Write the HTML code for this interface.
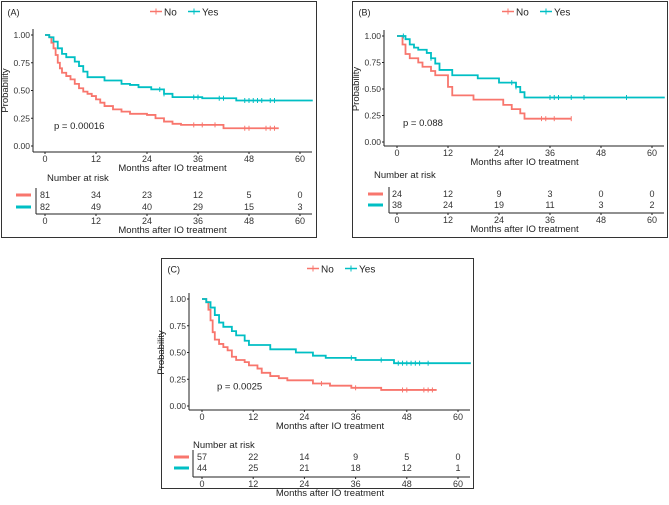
<!DOCTYPE html>
<html><head><meta charset="utf-8">
<style>
body{margin:0;background:#fff;width:669px;height:500px;overflow:hidden}
svg{font-family:"Liberation Sans",sans-serif}
</style></head><body>
<svg id="s" width="669" height="500"></svg>
<script>
const groups = ["No","Yes"];
const riskTimes = [0,12,24,36,48,60];
const yTicks = [0,0.25,0.5,0.75,1.0];
const yTickLabels = ["0.00","0.25","0.50","0.75","1.00"];
// Panel A
const aNoTimes = [0,1,1.5,2,2.5,3,3.5,4,5,6,7,8,9,10,11,12,13,14,16,18,20,24,26,28,30,32,42,55];
const aNoSurv  = [1,0.98,0.93,0.88,0.82,0.75,0.70,0.66,0.63,0.60,0.56,0.52,0.49,0.47,0.45,0.42,0.39,0.36,0.33,0.31,0.29,0.28,0.25,0.22,0.20,0.19,0.16,0.16];
const aNoCens  = [35,37,40,47,48,52,53,54];
const aYesTimes = [0,1,2,3,4,5,7,8,9,10,14,18,20,22,25,28,30,37,45,63];
const aYesSurv  = [1,0.98,0.94,0.88,0.83,0.80,0.76,0.72,0.67,0.62,0.59,0.56,0.55,0.53,0.51,0.47,0.44,0.43,0.41,0.41];
const aYesCens  = [27,28,35,36,41,42,47,48,49,50,51,53,54];
const aRiskNo = [81,34,23,12,5,0];
const aRiskYes = [82,49,40,29,15,3];
// Panel B
const bNoTimes = [0,1.3,2,3,5,6,8,9,12,13,18,25,27,29,30,41];
const bNoSurv  = [1,0.92,0.83,0.79,0.75,0.71,0.67,0.63,0.52,0.44,0.40,0.35,0.31,0.27,0.22,0.22];
const bNoCens  = [34,35,37,41];
const bYesTimes = [0,2,3,4,5,7,8,9,10,13,19,24,28,29,30,63];
const bYesSurv  = [1,0.97,0.92,0.89,0.87,0.84,0.79,0.74,0.68,0.63,0.60,0.56,0.52,0.47,0.42,0.42];
const bYesCens  = [1.5,8,27,28,36,37,38,41,44,54];
const bRiskNo = [24,12,9,3,0,0];
const bRiskYes = [38,24,19,11,3,2];
// Panel C
const cNoTimes = [0,1,1.5,2,2.5,3,4,5,6,7,8,10,11,13,14,16,18,20,26,30,35,42,55];
const cNoSurv  = [1,0.97,0.90,0.80,0.69,0.62,0.58,0.55,0.52,0.46,0.43,0.41,0.38,0.35,0.31,0.28,0.26,0.24,0.21,0.19,0.17,0.15,0.15];
const cNoCens  = [28,36,47,48,52,53,54];
const cYesTimes = [0,1,2,3,4,5,7,8,10,11,16,22,26,29,36,45,63];
const cYesSurv  = [1,0.97,0.92,0.85,0.78,0.74,0.70,0.66,0.61,0.57,0.53,0.50,0.47,0.45,0.43,0.40,0.40];
const cYesCens  = [35,42,46,47,48,49,50,51,53];
const cRiskNo = [57,22,14,9,5,0];
const cRiskYes = [44,25,21,18,12,1];

const COLORS = ["#F8766D","#00BFC4"];
const NS = "http://www.w3.org/2000/svg";
const svg = document.getElementById("s");
function el(tag, attrs, parent, text){
  const e = document.createElementNS(NS, tag);
  for (const k in attrs) e.setAttribute(k, attrs[k]);
  if (text !== undefined) e.textContent = text;
  (parent||svg).appendChild(e);
  return e;
}

function panel(P){
  const g = el("g", {}, svg);
  
  
  const box = el("rect", {x:P.bx, y:P.by, width:P.bw, height:P.bh, fill:"none", stroke:"#333", "stroke-width":1}, g);
  
  
  const xs = t => P.x0 + (P.x60 - P.x0) * t / 60;
  const ys = v => P.y0 + (P.y1 - P.y0) * v;
  const t1 = el("text", {x:P.bx+6, y:P.by+14, "font-size":9, fill:"#222"}, g, "(" + P.tag + ")");
  
  
  const lg = el("g", {}, g);
  
  
  const lx = P.legX, ly = P.by + 13;
  groups.forEach((name, i) => {
    const ox = lx + i * 38;
    const ln = el("line", {x1:ox, y1:ly-3, x2:ox+12, y2:ly-3, stroke:COLORS[i], "stroke-width":1.5}, lg);
    
    
    el("line", {x1:ox+6, y1:ly-6, x2:ox+6, y2:ly, stroke:COLORS[i], "stroke-width":1}, lg);
    const tx = el("text", {x:ox+14, y:ly+1, "font-size":10, fill:"#222"}, lg, name);
    
    
  });
  const yAx = el("line", {x1:P.ax, y1:P.y1-6, x2:P.ax, y2:P.xAxY, stroke:"#222", "stroke-width":1}, g);
  
  
  const xAx = el("line", {x1:P.ax, y1:P.xAxY, x2:P.xEnd, y2:P.xAxY, stroke:"#222", "stroke-width":1}, g);
  
  
  yTicks.forEach((v, i) => {
    el("line", {x1:P.ax-2, y1:ys(v), x2:P.ax, y2:ys(v), stroke:"#222"}, g);
    const t = el("text", {x:P.ax-3, y:ys(v)+3, "font-size":8.5, fill:"#333", "text-anchor":"end"}, g, yTickLabels[i]);
    
    
  });
  const yt = el("text", {x:0, y:0, "font-size":9.5, fill:"#222", "text-anchor":"middle",
    transform:`translate(${P.ax-25},${(P.y0+P.y1)/2}) rotate(-90)`}, g, "Probability");
  
  
  riskTimes.forEach(t => {
    el("line", {x1:xs(t), y1:P.xAxY, x2:xs(t), y2:P.xAxY+2, stroke:"#222"}, g);
    const tl = el("text", {x:xs(t), y:P.xAxY+10, "font-size":9, fill:"#333", "text-anchor":"middle"}, g, t);
    
    
  });
  const xt = el("text", {x:(P.x0+P.x60)/2, y:P.xAxY+19, "font-size":9.5, fill:"#222", "text-anchor":"middle"}, g, "Months after IO treatment");
  
  
  const pv = el("text", {x:P.pX, y:ys(0.18)+3, "font-size":9.5, fill:"#222"}, g, P.p);
  
  
  [[P.noT,P.noS,P.noC],[P.yesT,P.yesS,P.yesC]].forEach((s, gi) => {
    const [T,S,C] = s;
    let d = `M${xs(T[0])},${ys(S[0])}`;
    for (let i = 1; i < T.length; i++) d += `H${xs(T[i])}V${ys(S[i])}`;
    const p = el("path", {d, fill:"none", stroke:COLORS[gi], "stroke-width":1.8}, g);
    
    
    C.forEach(c => {
      let v = S[0];
      for (let i = 0; i < T.length; i++) if (T[i] <= c) v = S[i];
      const m = el("line", {x1:xs(c), y1:ys(v)-2.5, x2:xs(c), y2:ys(v)+2.5, stroke:COLORS[gi], "stroke-width":1}, g);
      
      
    });
  });
  const nr = el("text", {x:P.nrX, y:P.nrY, "font-size":9.5, fill:"#222"}, g, "Number at risk");
  
  
  const rows = [P.riskNo, P.riskYes];
  rows.forEach((r, gi) => {
    const ry = P.rY[gi];
    const k = el("line", {x1:P.keyX, y1:ry-3, x2:P.keyX+15, y2:ry-3, stroke:COLORS[gi], "stroke-width":3}, g);
    
    
    r.forEach((n, j) => {
      const c = el("text", {x:xs(riskTimes[j]), y:ry, "font-size":9, fill:"#333", "text-anchor":"middle"}, g, n);
      
      
    });
  });
  el("line", {x1:P.rAx, y1:P.rY[0]-10, x2:P.rAx, y2:P.rAxY, stroke:"#222"}, g);
  const rxa = el("line", {x1:P.rAx, y1:P.rAxY, x2:P.xEnd, y2:P.rAxY, stroke:"#222"}, g);
  
  
  riskTimes.forEach(t => {
    el("line", {x1:xs(t), y1:P.rAxY, x2:xs(t), y2:P.rAxY+2, stroke:"#222"}, g);
    const tl = el("text", {x:xs(t), y:P.rAxY+10, "font-size":9, fill:"#333", "text-anchor":"middle"}, g, t);
    
    
  });
  const rt = el("text", {x:(P.x0+P.x60)/2, y:P.rAxY+19, "font-size":9.5, fill:"#222", "text-anchor":"middle"}, g, "Months after IO treatment");
  
  
}

panel({tag:"A", bx:1.5, by:1.5, bw:315, bh:236, x0:45, x60:300, y0:146, y1:35, ax:33, xAxY:152, xEnd:312,
  legX:150, pX:54, p:"p = 0.00016", nrX:47, nrY:181, rY:[198,210], keyX:16, rAx:36, rAxY:214,
  noT:aNoTimes,noS:aNoSurv,noC:aNoCens,yesT:aYesTimes,yesS:aYesSurv,yesC:aYesCens,riskNo:aRiskNo,riskYes:aRiskYes});
panel({tag:"B", bx:352.5, by:1.5, bw:315, bh:236, x0:397, x60:652, y0:142, y1:36, ax:384, xAxY:146, xEnd:664,
  legX:502, pX:403, p:"p = 0.088", nrX:374, nrY:178, rY:[197,208], keyX:368, rAx:389, rAxY:213,
  noT:bNoTimes,noS:bNoSurv,noC:bNoCens,yesT:bYesTimes,yesS:bYesSurv,yesC:bYesCens,riskNo:bRiskNo,riskYes:bRiskYes});
panel({tag:"C", bx:161.5, by:258.5, bw:312, bh:230, x0:202, x60:458, y0:406, y1:299, ax:189, xAxY:410, xEnd:470,
  legX:307, pX:217, p:"p = 0.0025", nrX:193, nrY:448, rY:[460,471], keyX:174, rAx:193, rAxY:477,
  noT:cNoTimes,noS:cNoSurv,noC:cNoCens,yesT:cYesTimes,yesS:cYesSurv,yesC:cYesCens,riskNo:cRiskNo,riskYes:cRiskYes});
</script>
</body></html>
